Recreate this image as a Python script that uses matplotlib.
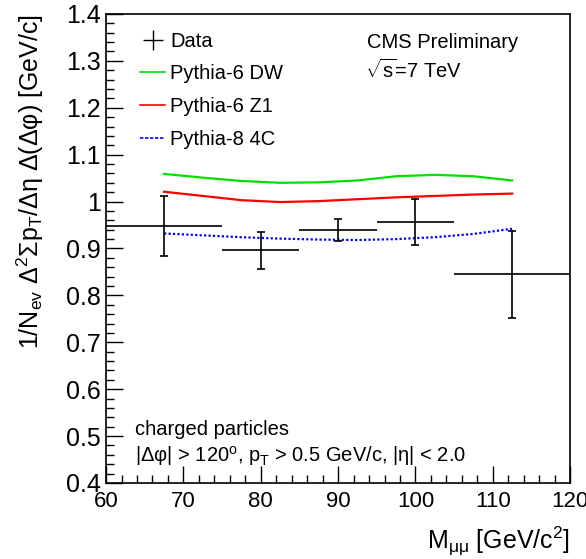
import numpy as np
import matplotlib.pyplot as plt
from matplotlib.ticker import MultipleLocator
from matplotlib.lines import Line2D

plt.rcParams['font.family'] = ['Liberation Sans', 'DejaVu Sans']
plt.rcParams['mathtext.fontset'] = 'custom'
plt.rcParams['mathtext.rm'] = 'Liberation Sans'
plt.rcParams['mathtext.it'] = 'Liberation Sans:italic'

# data points (bins in M_mumu)
mass = [67.5, 80, 90, 100, 112.5]
bin_lo = [60, 75, 85, 95, 105]
bin_hi = [75, 85, 95, 105, 120]
data = [0.947, 0.896, 0.939, 0.956, 0.845]
err = [0.064, 0.040, 0.024, 0.049, 0.093]

# MC predictions
mc_x = [67.5, 72.5, 77.5, 82.5, 87.5, 92.5, 97.5, 102.5, 107.5, 112.5]
dw = [1.059, 1.051, 1.044, 1.040, 1.041, 1.045, 1.054, 1.057, 1.054, 1.045]
z1 = [1.021, 1.012, 1.003, 0.999, 1.001, 1.005, 1.009, 1.012, 1.015, 1.017]
p8 = [0.932, 0.928, 0.924, 0.921, 0.919, 0.918, 0.920, 0.924, 0.931, 0.942]

fig = plt.figure(figsize=(5.86, 5.59), dpi=100)
ax = fig.add_axes([0.181, 0.136, 0.792, 0.839])

xerr = [np.array(mass) - np.array(bin_lo), np.array(bin_hi) - np.array(mass)]
ax.errorbar(mass, data, xerr=xerr, fmt='none', ecolor='black',
            elinewidth=1.2, capsize=0, zorder=5)
ax.errorbar(mass, data, yerr=err, fmt='none', ecolor='black',
            elinewidth=1.2, capsize=3, capthick=1.2, zorder=5)
ax.plot(mc_x, dw, color='#00e000', lw=1.6)
ax.plot(mc_x, z1, color='#ff0000', lw=1.6)
ax.plot(mc_x, p8, color='#0000ff', lw=1.6, ls=(0, (1, 1)))

ax.set_xlim(60, 120)
ax.set_ylim(0.4, 1.4)
ax.xaxis.set_major_locator(MultipleLocator(10))
ax.xaxis.set_minor_locator(MultipleLocator(2))
ax.yaxis.set_minor_locator(MultipleLocator(0.02))
ax.set_yticks(np.arange(0.4, 1.41, 0.1))
ax.set_yticklabels(['0.4', '0.5', '0.6', '0.7', '0.8', '0.9', '1', '1.1', '1.2', '1.3', '1.4'])
ax.tick_params(which='both', direction='in', top=False, right=False)
ax.tick_params(axis='x', labelsize=16, pad=6)
ax.tick_params(axis='y', labelsize=18, pad=4)
ax.tick_params(which='major', length=12, width=1)
ax.tick_params(which='minor', length=6, width=1)
for s in ax.spines.values():
    s.set_linewidth(1.2)

ax.set_xlabel(r'M$_{\mathrm{μμ}}$ [GeV/c$^{2}$]', fontsize=18, loc='right', labelpad=9)
ax.set_ylabel(r'1/N$_{\mathrm{ev}}$ Δ$^{2}$Σp$_{\mathrm{T}}$/Δη Δ(Δφ) [GeV/c]',
              fontsize=18, loc='top', labelpad=14)

handles = [Line2D([], [], color='black', marker='+', markersize=15, ls='none'),
           Line2D([], [], color='#00e000', lw=1.2),
           Line2D([], [], color='#ff0000', lw=1.2),
           Line2D([], [], color='#0000ff', lw=1.2, ls=(0, (2, 1)))]
labels = ['Data', 'Pythia-6 DW', 'Pythia-6 Z1', 'Pythia-8 4C']
ax.legend(handles, labels, loc='upper left', bbox_to_anchor=(0.073, 0.962),
          frameon=False, fontsize=14.5, handlelength=1.25, handletextpad=0.25,
          labelspacing=0.68, borderpad=0, borderaxespad=0)

ax.text(0.5625, 0.96, 'CMS Preliminary', transform=ax.transAxes, fontsize=14.5, va='top')
ax.text(0.558, 0.905, r'$\sqrt{\mathrm{s}}$=7 TeV', transform=ax.transAxes, fontsize=14.5, va='top')
ax.text(0.0625, 0.102, 'charged particles', transform=ax.transAxes, fontsize=14.5)
ax.text(0.0625, 0.045, r'|Δφ| > 120$^{\mathrm{o}}$, p$_{\mathrm{T}}$ > 0.5 GeV/c, |η| < 2.0',
        transform=ax.transAxes, fontsize=14.5)

fig.savefig('out.png', dpi=100)
